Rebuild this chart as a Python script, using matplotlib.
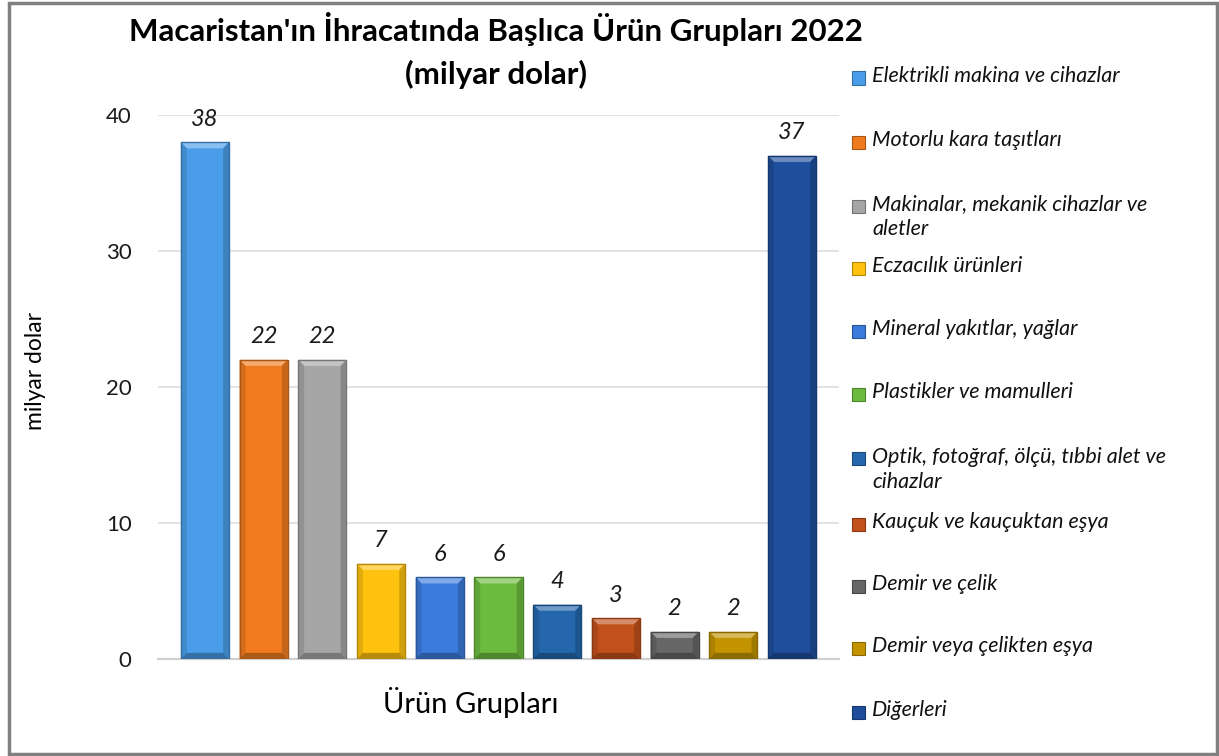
import matplotlib
matplotlib.use("Agg")
import matplotlib.pyplot as plt
from matplotlib.patches import Rectangle, Polygon
import matplotlib.colors as mcolors

categories = [
    "Elektrikli makina ve cihazlar",
    "Motorlu kara taşıtları",
    "Makinalar, mekanik cihazlar ve\naletler",
    "Eczacılık ürünleri",
    "Mineral yakıtlar, yağlar",
    "Plastikler ve mamulleri",
    "Optik, fotoğraf, ölçü, tıbbi alet ve\ncihazlar",
    "Kauçuk ve kauçuktan eşya",
    "Demir ve çelik",
    "Demir veya çelikten eşya",
    "Diğerleri",
]
values = [38, 22, 22, 7, 6, 6, 4, 3, 2, 2, 37]
colors = ["#4A9DE8", "#F07B1F", "#A6A6A6", "#FFC20E", "#3B7BDB", "#6DBB3E",
          "#2567AD", "#C2501B", "#666666", "#C39400", "#1F4E9C"]
yticks = [0, 10, 20, 30, 40]

plt.rcParams['font.family'] = ['Lato', 'DejaVu Sans']

W, H = 1219, 756
fig = plt.figure(figsize=(W / 100, H / 100), dpi=100)
ax = fig.add_axes([158 / W, 1 - 659 / H, (839 - 158) / W, (659 - 115) / H])

x = list(range(len(values)))
bars = ax.bar(x, values, width=0.82, color=colors, edgecolor="none", zorder=2)
ax.set_xlim(-0.8, len(values) - 0.2)
ax.set_ylim(0, 40)

def shade(c, f):
    r, g, b = mcolors.to_rgb(c)
    if f >= 0:
        return (r + (1 - r) * f, g + (1 - g) * f, b + (1 - b) * f)
    return (r * (1 + f), g * (1 + f), b * (1 + f))

# bevel effect derived from the drawn bars
bx = 0.1
by = 0.45
for b, c in zip(bars, colors):
    x0, w, h = b.get_x(), b.get_width(), b.get_height()
    x1 = x0 + w
    top = [(x0, h), (x1, h), (x1 - bx, h - by), (x0 + bx, h - by)]
    ax.add_patch(Polygon(top, closed=True, facecolor=shade(c, 0.35), edgecolor="none", zorder=3))
    left = [(x0, 0), (x0, h), (x0 + bx, h - by), (x0 + bx, by)]
    ax.add_patch(Polygon(left, closed=True, facecolor=shade(c, -0.12), edgecolor="none", zorder=3))
    right = [(x1, 0), (x1, h), (x1 - bx, h - by), (x1 - bx, by)]
    ax.add_patch(Polygon(right, closed=True, facecolor=shade(c, -0.18), edgecolor="none", zorder=3))
    bot = [(x0, 0), (x1, 0), (x1 - bx, by), (x0 + bx, by)]
    ax.add_patch(Polygon(bot, closed=True, facecolor=shade(c, -0.28), edgecolor="none", zorder=3))
    ax.add_patch(Rectangle((x0, 0), w, h, facecolor="none", edgecolor=shade(c, -0.3), lw=1, zorder=4))

for b, v in zip(bars, values):
    ax.annotate(f"{v}", (b.get_x() + b.get_width() / 2, v), xytext=(0, 9),
                textcoords="offset points", ha="center", va="bottom",
                fontsize=17, fontstyle="italic", color="#1a1a1a")

for s in ["top", "right", "left"]:
    ax.spines[s].set_visible(False)
ax.spines["bottom"].set_color("#D0D0D0")
ax.spines["bottom"].set_linewidth(1.6)
ax.set_xticks([])
ax.set_yticks(yticks)
ax.yaxis.grid(True, color="#E3E3E3", linewidth=1.4, zorder=0)
ax.set_axisbelow(True)
ax.tick_params(axis="y", length=0, labelsize=16, pad=19, labelcolor="#1a1a1a")

fig.text(471 / W, 1 - 703 / H, "Ürün Grupları", ha="center", va="center", fontsize=21)
fig.text(36 / W, 1 - 371 / H, "milyar dolar", rotation=90, ha="center", va="center", fontsize=16.5)

fig.text(496 / W, 1 - 29 / H, "Macaristan'ın İhracatında Başlıca Ürün Grupları 2022",
         ha="center", va="center", fontsize=22.5, fontweight="bold")
fig.text(496 / W, 1 - 74 / H, "(milyar dolar)", ha="center", va="center",
         fontsize=22.5, fontweight="bold")

# legend
leg_y = [78, 142, 206, 268, 331, 394, 459, 524, 586, 648, 712]
s = 13
for yy, lab, c in zip(leg_y, categories, colors):
    fig.patches.append(Rectangle((852 / W, 1 - (yy + s / 2) / H), s / W, s / H,
                                 transform=fig.transFigure, facecolor=c,
                                 edgecolor=shade(c, -0.3), lw=0.8, figure=fig))
    fig.text(872 / W, 1 - (yy - 12) / H, lab, ha="left", va="top", fontsize=15.5,
             fontstyle="italic", linespacing=1.3, color="#111111")

fig.patches.append(Rectangle((9 / W, 2 / H), (W - 11) / W, (H - 5) / H,
                             transform=fig.transFigure, facecolor="none",
                             edgecolor="#808080", lw=2.5, figure=fig))

fig.savefig("out.png", dpi=100)
